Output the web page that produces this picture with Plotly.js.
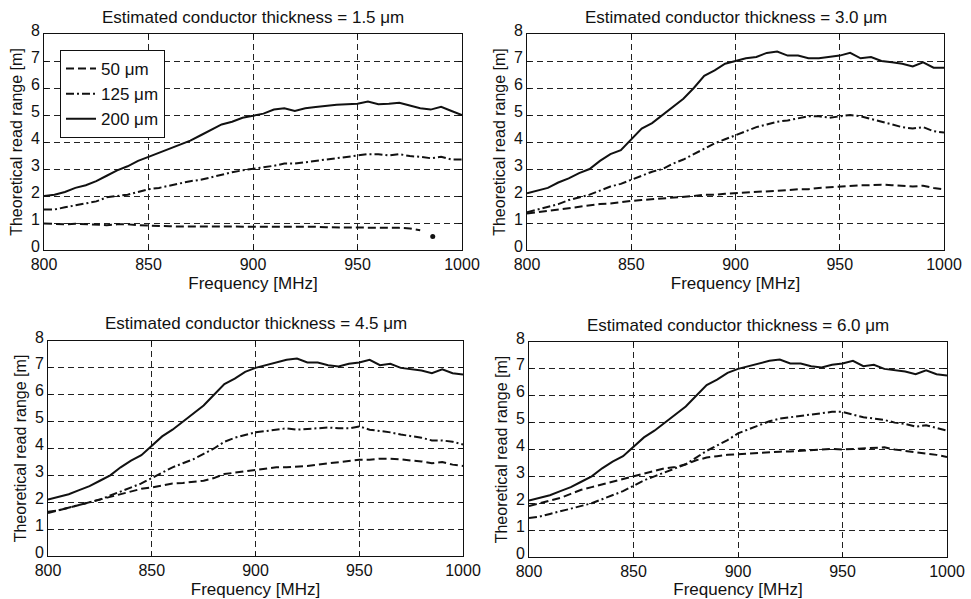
<!DOCTYPE html>
<html>
<head>
<meta charset="utf-8">
<script src="https://cdn.plot.ly/plotly-3.0.1.min.js"></script>
<style>html,body{margin:0;padding:0;background:#fff;}#chart{width:971px;height:599px;}</style>
</head>
<body>
<div id="chart"></div>
<script>
// Frequency axis (MHz), 5 MHz steps
const freq = [800,805,810,815,820,825,830,835,840,845,850,855,860,865,870,875,880,885,890,895,900,905,910,915,920,925,930,935,940,945,950,955,960,965,970,975,980,985,990,995,1000];

const seriesNames = ['50 μm', '125 μm', '200 μm'];
const panelTitles = ['Estimated conductor thickness = 1.5 μm', 'Estimated conductor thickness = 3.0 μm',
                     'Estimated conductor thickness = 4.5 μm', 'Estimated conductor thickness = 6.0 μm'];

// Panel 1: 1.5 um
const p1_50  = [0.98,0.97,0.95,0.97,0.95,0.93,0.92,0.95,0.95,0.92,0.90,0.90,0.88,0.87,0.87,0.86,0.85,0.86,0.86,0.86,0.86,0.86,0.86,0.86,0.86,0.86,0.86,0.84,0.84,0.84,0.84,0.84,0.84,0.84,0.82,0.80,0.73,null,null,null,null];
const p1_50_dotFreq = [986];
const p1_50_dotVal = [0.5];
const p1_125 = [1.50,1.50,1.58,1.65,1.72,1.80,1.95,2.00,2.05,2.15,2.25,2.30,2.38,2.45,2.55,2.60,2.70,2.80,2.88,2.95,3.00,3.05,3.12,3.20,3.20,3.25,3.30,3.35,3.40,3.45,3.50,3.55,3.55,3.50,3.55,3.48,3.45,3.40,3.45,3.35,3.35];
const p1_200 = [2.00,2.05,2.15,2.30,2.40,2.55,2.75,2.95,3.10,3.30,3.45,3.60,3.75,3.90,4.05,4.25,4.45,4.65,4.75,4.90,4.97,5.05,5.20,5.25,5.15,5.25,5.30,5.35,5.38,5.40,5.42,5.50,5.40,5.42,5.45,5.35,5.25,5.20,5.30,5.15,5.00];

// Panel 2: 3.0 um
const p2_50  = [1.35,1.40,1.45,1.50,1.55,1.60,1.65,1.70,1.72,1.78,1.82,1.85,1.88,1.90,1.92,1.95,2.00,2.05,2.05,2.08,2.10,2.12,2.15,2.18,2.20,2.22,2.25,2.25,2.30,2.33,2.35,2.38,2.40,2.40,2.42,2.40,2.38,2.35,2.38,2.30,2.25];
const p2_125 = [1.40,1.50,1.60,1.70,1.85,1.95,2.05,2.20,2.35,2.45,2.60,2.75,2.90,3.00,3.20,3.35,3.55,3.75,3.95,4.10,4.25,4.40,4.55,4.65,4.75,4.80,4.88,4.95,4.95,4.90,4.95,5.00,4.95,4.85,4.75,4.65,4.55,4.50,4.55,4.40,4.35];
const p2_200 = [2.10,2.20,2.30,2.50,2.65,2.85,3.00,3.30,3.55,3.70,4.10,4.50,4.70,5.00,5.30,5.60,6.00,6.45,6.65,6.90,7.00,7.10,7.15,7.30,7.35,7.20,7.20,7.10,7.10,7.15,7.20,7.30,7.10,7.15,7.00,6.95,6.90,6.80,6.95,6.75,6.75];

// Panel 3: 4.5 um
const p3_50  = [1.65,1.70,1.80,1.90,2.00,2.10,2.20,2.30,2.40,2.50,2.55,2.62,2.70,2.72,2.75,2.80,2.90,3.05,3.10,3.15,3.20,3.25,3.30,3.30,3.32,3.35,3.40,3.45,3.50,3.55,3.58,3.58,3.62,3.62,3.60,3.55,3.52,3.45,3.50,3.40,3.35];
const p3_125 = [1.60,1.70,1.80,1.90,2.00,2.10,2.25,2.40,2.55,2.70,2.90,3.10,3.30,3.45,3.60,3.80,4.00,4.25,4.40,4.50,4.60,4.65,4.70,4.75,4.70,4.72,4.75,4.78,4.75,4.75,4.82,4.70,4.65,4.60,4.52,4.45,4.40,4.30,4.30,4.25,4.15];
const p3_200 = [2.10,2.20,2.30,2.45,2.60,2.80,3.00,3.30,3.55,3.75,4.10,4.45,4.70,5.00,5.30,5.60,6.00,6.40,6.60,6.85,7.00,7.10,7.20,7.30,7.35,7.20,7.20,7.10,7.05,7.15,7.20,7.30,7.10,7.15,7.00,6.95,6.90,6.80,6.95,6.80,6.75];

// Panel 4: 6.0 um
const p4_50  = [1.90,2.00,2.10,2.20,2.35,2.50,2.60,2.70,2.80,2.90,3.00,3.10,3.20,3.30,3.35,3.45,3.60,3.70,3.75,3.80,3.82,3.85,3.87,3.90,3.92,3.93,3.95,3.97,4.00,4.02,4.00,4.02,4.05,4.05,4.08,4.00,3.95,3.90,3.85,3.80,3.72];
const p4_125 = [1.45,1.50,1.60,1.70,1.80,1.90,2.00,2.15,2.30,2.45,2.65,2.85,3.00,3.15,3.30,3.45,3.70,3.95,4.15,4.35,4.60,4.75,4.90,5.05,5.15,5.20,5.25,5.30,5.35,5.40,5.40,5.30,5.20,5.15,5.10,5.00,4.95,4.85,4.90,4.80,4.70];
const p4_200 = [2.10,2.20,2.30,2.45,2.60,2.80,3.00,3.30,3.55,3.75,4.10,4.45,4.70,5.00,5.30,5.60,6.00,6.40,6.60,6.85,7.00,7.10,7.20,7.30,7.35,7.20,7.20,7.10,7.05,7.15,7.20,7.30,7.10,7.15,7.00,6.95,6.90,6.80,6.95,6.80,6.75];

const panels = [[p1_50,p1_125,p1_200],[p2_50,p2_125,p2_200],[p3_50,p3_125,p3_200],[p4_50,p4_125,p4_200]];
const dashes = ['8px,4px', '8px,3px,2px,3px', 'solid'];

const FONT = '"Liberation Sans", Arial, sans-serif';
const W = 971, H = 599;
// pixel boxes [left, right, top, bottom]
const boxes = [[44,462,34,250],[527,944,34,250],[48,463,341,556],[529,947,342,557]];

const traces = [];
panels.forEach((p, i) => {
  const ax = i === 0 ? '' : String(i + 1);
  p.forEach((vals, j) => {
    traces.push({
      x: freq, y: vals, type: 'scatter', mode: 'lines',
      name: seriesNames[j], showlegend: i === 0,
      xaxis: 'x' + ax, yaxis: 'y' + ax,
      line: {color: '#111', width: 2, dash: dashes[j]},
      connectgaps: false, hoverinfo: 'skip'
    });
  });
});
traces.push({
  x: p1_50_dotFreq, y: p1_50_dotVal, type: 'scatter', mode: 'markers',
  showlegend: false, xaxis: 'x', yaxis: 'y',
  marker: {color: '#111', size: 5}, hoverinfo: 'skip'
});

const layout = {
  width: W, height: H,
  margin: {l: 0, r: 0, t: 0, b: 0},
  paper_bgcolor: '#fff', plot_bgcolor: '#fff',
  font: {family: FONT, size: 16, color: '#111'},
  showlegend: true,
  legend: {
    x: 60 / W, y: 1 - 50 / H, xanchor: 'left', yanchor: 'top',
    bgcolor: '#fff', bordercolor: '#111', borderwidth: 1,
    font: {family: FONT, size: 17, color: '#111'},
    tracegroupgap: 0, itemwidth: 30
  },
  annotations: []
};

boxes.forEach((b, i) => {
  const ax = i === 0 ? '' : String(i + 1);
  const xd = [b[0] / W, b[1] / W];
  const yd = [1 - b[3] / H, 1 - b[2] / H];
  layout['xaxis' + ax] = {
    domain: xd, range: [800, 1000], dtick: 50, tick0: 800,
    anchor: 'y' + ax, showline: true, mirror: 'ticks', linecolor: '#111', linewidth: 1,
    ticks: 'inside', ticklen: 4, tickcolor: '#111',
    showgrid: true, gridcolor: '#222', gridwidth: 1, griddash: '6px,4px',
    zeroline: false, tickfont: {family: FONT, size: 16, color: '#111'},
    title: {text: 'Frequency [MHz]', font: {family: FONT, size: 17, color: '#111'}, standoff: 4},
    fixedrange: true
  };
  layout['yaxis' + ax] = {
    domain: yd, range: [0, 8], dtick: 1, tick0: 0,
    anchor: 'x' + ax, showline: true, mirror: 'ticks', linecolor: '#111', linewidth: 1,
    ticks: 'inside', ticklen: 4, tickcolor: '#111', ticklabelshift: -4,
    showgrid: true, gridcolor: '#222', gridwidth: 1, griddash: '6px,4px',
    zeroline: false, tickfont: {family: FONT, size: 16, color: '#111'},
    title: {text: 'Theoretical read range [m]', font: {family: FONT, size: 16, color: '#111'}, standoff: 4},
    fixedrange: true
  };
  layout.annotations.push({
    text: panelTitles[i], xref: 'paper', yref: 'paper',
    x: (b[0] + b[1]) / 2 / W, y: 1 - (b[2] - 17) / H,
    xanchor: 'center', yanchor: 'middle', showarrow: false,
    font: {family: FONT, size: 17, color: '#111'}
  });
});

Plotly.newPlot('chart', traces, layout, {displayModeBar: false, staticPlot: true});
</script>
</body>
</html>
